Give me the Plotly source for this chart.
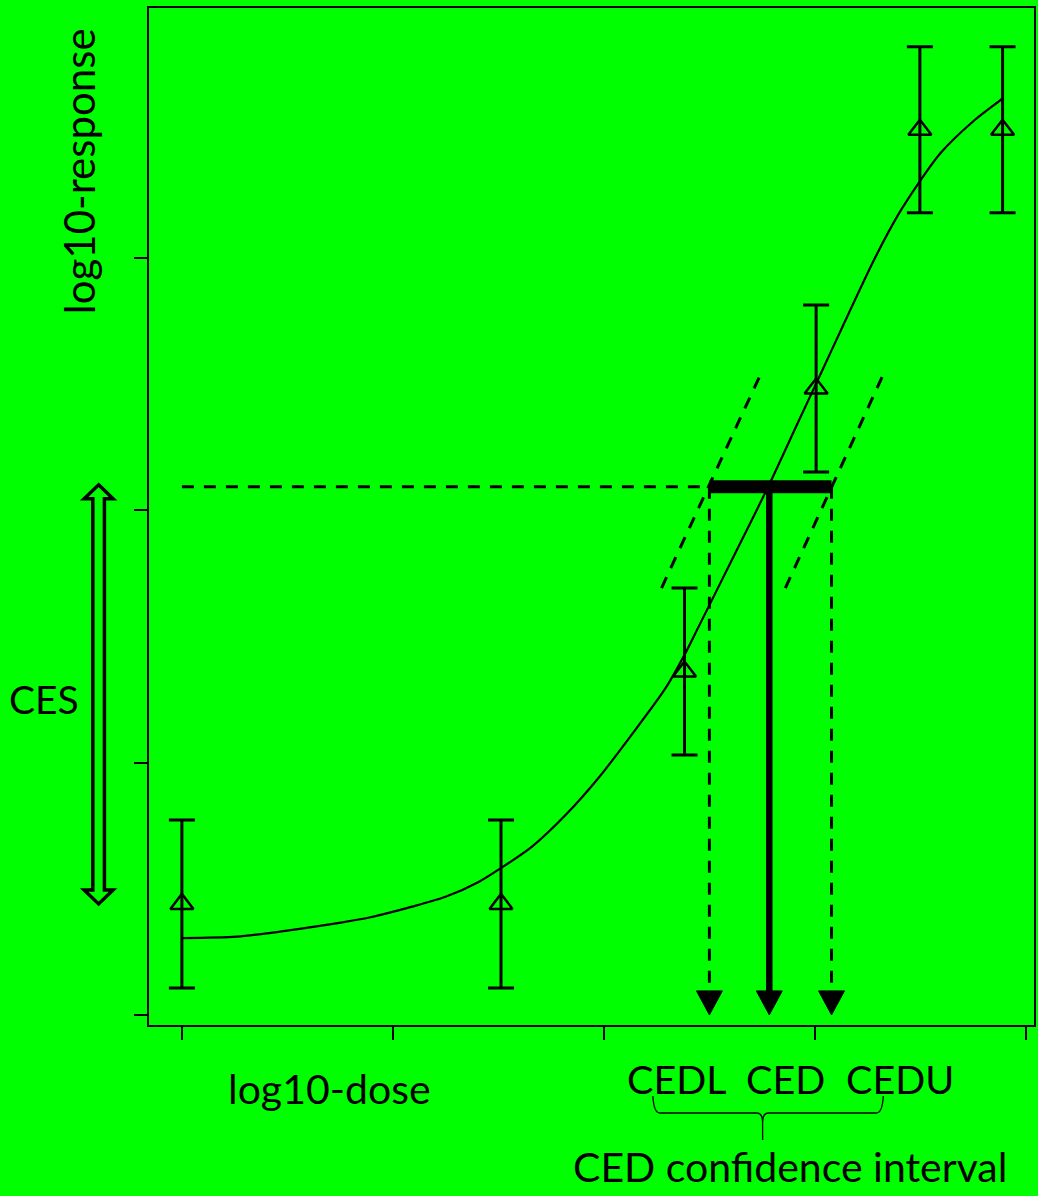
import plotly.graph_objects as go

# ---------------- data ----------------
dose = [0.0, 1.513, 2.383, 3.007, 3.499, 3.891]
response = [0.440, 0.440, 1.361, 2.483, 3.508, 3.508]
resp_err = [0.333, 0.333, 0.331, 0.331, 0.329, 0.329]

fit_dose = [0.0, 0.260, 0.430, 0.558, 0.747, 0.889, 1.092, 1.253, 1.409, 1.513,
            1.660, 1.820, 1.976, 2.132, 2.293, 2.388, 2.449, 2.605, 2.780, 2.922,
            3.031, 3.125, 3.286, 3.395, 3.489, 3.598, 3.759, 3.882, 3.891]
fit_resp = [0.304, 0.310, 0.326, 0.341, 0.365, 0.386, 0.429, 0.469, 0.528, 0.582,
            0.667, 0.793, 0.940, 1.110, 1.295, 1.435, 1.537, 1.799, 2.094, 2.350,
            2.545, 2.715, 3.000, 3.170, 3.292, 3.417, 3.547, 3.627, 3.634]

ces_level = 2.093          # response level corresponding to CES
ced = 2.785
cedl = 2.501
cedu = 3.080
tan_y = [1.692, 2.545]
tan_left_x = [2.274, 2.747]
tan_right_x = [2.861, 3.329]

x_ticks = [0, 1, 2, 3, 4]
y_ticks = [0, 1, 2, 3]

labels_ced = ["CEDL", "CED", "CEDU"]

# ---------------- layout constants ----------------
W, H = 1038, 1196
ML, MR, MT, MB = 149, 2, 8, 171
PW, PH = W - ML - MR, H - MT - MB
X0, X1 = -0.156, 4.040
Y0, Y1 = -0.040, 3.991
FONT = "Lato"
FS = 41
BLACK = "black"
GREEN = "#00FF00"
DASH = "12px,10px"


def px2paper(px, py):
    return (px - ML) / PW, (H - MB - py) / PH


def data2px(x, y):
    return ML + (x - X0) / (X1 - X0) * PW, H - MB - (y - Y0) / (Y1 - Y0) * PH


def path_px(points, close=True):
    parts = []
    for i, (px, py) in enumerate(points):
        xp, yp = px2paper(px, py)
        parts.append(("M" if i == 0 else "L") + f"{xp:.5f},{yp:.5f}")
    return " ".join(parts) + (" Z" if close else "")


fig = go.Figure()

# fitted curve
fig.add_trace(go.Scatter(x=fit_dose, y=fit_resp, mode="lines",
                         line=dict(color=BLACK, width=2.2, shape="spline", smoothing=0.8),
                         hoverinfo="skip"))

# dashed tangent lines
for tx in (tan_left_x, tan_right_x):
    fig.add_trace(go.Scatter(x=tx, y=tan_y, mode="lines",
                             line=dict(color=BLACK, width=3, dash=DASH)))

# horizontal dashed line at CES level
fig.add_trace(go.Scatter(x=[dose[0], cedl], y=[ces_level, ces_level], mode="lines",
                         line=dict(color=BLACK, width=3, dash=DASH)))

# arrow geometry (in data units)
hw = 13 * (X1 - X0) / PW
ah = 24 * (Y1 - Y0) / PH

# dashed vertical lines at CEDL / CEDU
for xv in (cedl, cedu):
    fig.add_trace(go.Scatter(x=[xv, xv], y=[ces_level, ah], mode="lines",
                             line=dict(color=BLACK, width=3, dash=DASH)))

# solid vertical at CED
fig.add_trace(go.Scatter(x=[ced, ced], y=[ces_level, ah], mode="lines",
                         line=dict(color=BLACK, width=6.5)))

# thick CI bar
fig.add_trace(go.Scatter(x=[cedl, cedu], y=[ces_level, ces_level], mode="lines",
                         line=dict(color=BLACK, width=13)))

# observations with error bars
fig.add_trace(go.Scatter(x=dose, y=response, mode="markers",
                         marker=dict(symbol="triangle-up-open", size=20, color=BLACK,
                                     line=dict(color=BLACK, width=2.5)),
                         error_y=dict(type="data", array=resp_err, visible=True,
                                      color=BLACK, thickness=3, width=13)))

shapes = []
# arrowheads
for xv in (cedl, ced, cedu):
    shapes.append(dict(type="path", xref="x", yref="y",
                       path=f"M{xv - hw},{ah} L{xv + hw},{ah} L{xv},0 Z",
                       fillcolor=BLACK, line=dict(color=BLACK, width=1)))

# CES double arrow (outlined), spanning background response to CES level
cx = 98.5
_, ytop = data2px(0, ces_level)
_, ybot = data2px(0, response[0])
ytop -= 2
sh, hh, hl = 5.8, 14.5, 14
pts = [(cx, ytop), (cx + hh, ytop + hl), (cx + sh, ytop + hl), (cx + sh, ybot - hl),
       (cx + hh, ybot - hl), (cx, ybot), (cx - hh, ybot - hl), (cx - sh, ybot - hl),
       (cx - sh, ytop + hl), (cx - hh, ytop + hl)]
shapes.append(dict(type="path", xref="paper", yref="paper", path=path_px(pts),
                   line=dict(color=BLACK, width=3.5)))

# curly brace under CED labels
bl, bm, br = 654, 764, 885
bt, bh, bb = 1096, 1113, 1140


def P(px, py):
    xp, yp = px2paper(px, py)
    return f"{xp:.5f},{yp:.5f}"


brace = (f"M{P(bl, bt)} Q{P(bl + 1, bh)} {P(bl + 7, bh)} L{P(bm - 6, bh)} "
         f"Q{P(bm, bh)} {P(bm, bh + 9)} L{P(bm, bb)} "
         f"M{P(bm, bh + 9)} Q{P(bm, bh)} {P(bm + 6, bh)} L{P(br - 7, bh)} "
         f"Q{P(br - 1, bh)} {P(br, bt)}")
shapes.append(dict(type="path", xref="paper", yref="paper", path=brace,
                   line=dict(color=BLACK, width=1.3)))

annotations = []


def add_text(text, px, py, angle=0, size=FS):
    xp, yp = px2paper(px, py)
    annotations.append(dict(text=text, x=xp, y=yp, xref="paper", yref="paper",
                            xanchor="center", yanchor="middle", showarrow=False,
                            textangle=angle,
                            font=dict(family=FONT, size=size, color=BLACK)))


add_text("log10-response", 79, 171, -90, 42)
add_text("CES", 44, 699, size=39)
add_text("log10-dose", 330, 1088)
for lab, px in zip(labels_ced, [678, 787, 902]):
    add_text(lab, px, 1078, size=39.5)
add_text("CED confidence interval", 791, 1166)

axis_common = dict(showline=True, linecolor=BLACK, linewidth=2, mirror=True,
                   ticks="outside", ticklen=13, tickwidth=2, tickcolor=BLACK,
                   showticklabels=False, showgrid=False, zeroline=False)

fig.update_layout(
    width=W, height=H,
    margin=dict(l=ML, r=MR, t=MT, b=MB),
    paper_bgcolor=GREEN, plot_bgcolor=GREEN,
    showlegend=False,
    xaxis=dict(range=[X0, X1], tickvals=x_ticks, **axis_common),
    yaxis=dict(range=[Y0, Y1], tickvals=y_ticks, **axis_common),
    shapes=shapes,
    annotations=annotations,
)

fig.write_html("out.html",
               config={"displayModeBar": False},
               post_script="document.body.style.margin='0px';"
                           "document.body.style.overflow='hidden';")
